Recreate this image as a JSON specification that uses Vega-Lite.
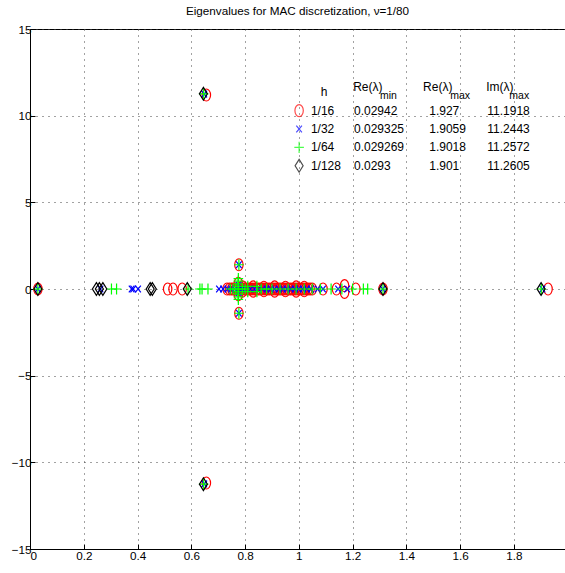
{
  "$schema": "https://vega.github.io/schema/vega-lite/v6.json",
  "width": 535,
  "height": 520,
  "autosize": {"type": "none"},
  "padding": {"left": 30, "top": 29, "right": 0, "bottom": 24},
  "background": "white",
  "title": {
    "text": "Eigenvalues for MAC discretization, ν=1/80",
    "font": "Liberation Sans, Arial, sans-serif",
    "fontSize": 11.7,
    "fontWeight": "normal",
    "color": "#000",
    "anchor": "middle",
    "frame": "group",
    "baseline": "alphabetic",
    "offset": -3
  },
  "config": {
    "font": "Liberation Sans, Arial, sans-serif",
    "view": {"stroke": "#000", "strokeWidth": 1},
    "axis": {
      "domainColor": "#000",
      "tickColor": "#000",
      "labelColor": "#000",
      "labelFont": "Liberation Sans, Arial, sans-serif",
      "labelFontSize": 11.7,
      "gridColor": "#444",
      "gridDash": [1, 5],
      "gridWidth": 1,
      "tickSize": -5,
      "title": null
    }
  },
  "datasets": {
    "eig": [
      {"h": "1/16", "re": 0.02942, "im": 0},
      {"h": "1/16", "re": 0.512, "im": 0},
      {"h": "1/16", "re": 0.532, "im": 0},
      {"h": "1/16", "re": 0.566, "im": 0},
      {"h": "1/16", "re": 0.656, "im": 11.1918},
      {"h": "1/16", "re": 0.656, "im": -11.1918},
      {"h": "1/16", "re": 0.777, "im": 1.4},
      {"h": "1/16", "re": 0.777, "im": -1.4},
      {"h": "1/16", "re": 0.733, "im": 0},
      {"h": "1/16", "re": 0.742, "im": 0},
      {"h": "1/16", "re": 0.75, "im": 0},
      {"h": "1/16", "re": 0.757, "im": 0},
      {"h": "1/16", "re": 0.764, "im": 0},
      {"h": "1/16", "re": 0.771, "im": 0},
      {"h": "1/16", "re": 0.775, "im": 0.32},
      {"h": "1/16", "re": 0.775, "im": -0.32},
      {"h": "1/16", "re": 0.78, "im": 0},
      {"h": "1/16", "re": 0.788, "im": 0},
      {"h": "1/16", "re": 0.79, "im": 0.12},
      {"h": "1/16", "re": 0.79, "im": -0.12},
      {"h": "1/16", "re": 0.795, "im": 0},
      {"h": "1/16", "re": 0.803, "im": 0},
      {"h": "1/16", "re": 0.81, "im": 0},
      {"h": "1/16", "re": 0.818, "im": 0},
      {"h": "1/16", "re": 0.826, "im": 0},
      {"h": "1/16", "re": 0.83, "im": 0.12},
      {"h": "1/16", "re": 0.83, "im": -0.12},
      {"h": "1/16", "re": 0.834, "im": 0},
      {"h": "1/16", "re": 0.842, "im": 0},
      {"h": "1/16", "re": 0.85, "im": 0},
      {"h": "1/16", "re": 0.858, "im": 0},
      {"h": "1/16", "re": 0.866, "im": 0},
      {"h": "1/16", "re": 0.87, "im": 0.1},
      {"h": "1/16", "re": 0.87, "im": -0.1},
      {"h": "1/16", "re": 0.874, "im": 0},
      {"h": "1/16", "re": 0.882, "im": 0},
      {"h": "1/16", "re": 0.89, "im": 0},
      {"h": "1/16", "re": 0.898, "im": 0},
      {"h": "1/16", "re": 0.906, "im": 0},
      {"h": "1/16", "re": 0.91, "im": 0.12},
      {"h": "1/16", "re": 0.91, "im": -0.12},
      {"h": "1/16", "re": 0.914, "im": 0},
      {"h": "1/16", "re": 0.922, "im": 0},
      {"h": "1/16", "re": 0.93, "im": 0},
      {"h": "1/16", "re": 0.938, "im": 0},
      {"h": "1/16", "re": 0.946, "im": 0},
      {"h": "1/16", "re": 0.95, "im": 0.1},
      {"h": "1/16", "re": 0.95, "im": -0.1},
      {"h": "1/16", "re": 0.954, "im": 0},
      {"h": "1/16", "re": 0.962, "im": 0},
      {"h": "1/16", "re": 0.97, "im": 0},
      {"h": "1/16", "re": 0.978, "im": 0},
      {"h": "1/16", "re": 0.986, "im": 0},
      {"h": "1/16", "re": 0.99, "im": 0.12},
      {"h": "1/16", "re": 0.99, "im": -0.12},
      {"h": "1/16", "re": 0.994, "im": 0},
      {"h": "1/16", "re": 1.002, "im": 0},
      {"h": "1/16", "re": 1.01, "im": 0},
      {"h": "1/16", "re": 1.018, "im": 0},
      {"h": "1/16", "re": 1.02, "im": 0.1},
      {"h": "1/16", "re": 1.02, "im": -0.1},
      {"h": "1/16", "re": 1.026, "im": 0},
      {"h": "1/16", "re": 1.034, "im": 0},
      {"h": "1/16", "re": 1.042, "im": 0},
      {"h": "1/16", "re": 1.05, "im": 0},
      {"h": "1/16", "re": 1.09, "im": 0},
      {"h": "1/16", "re": 1.14, "im": 0},
      {"h": "1/16", "re": 1.17, "im": 0.2},
      {"h": "1/16", "re": 1.17, "im": -0.2},
      {"h": "1/16", "re": 1.212, "im": 0},
      {"h": "1/16", "re": 1.313, "im": 0},
      {"h": "1/16", "re": 1.927, "im": 0},

      {"h": "1/32", "re": 0.029325, "im": 0},
      {"h": "1/32", "re": 0.262, "im": 0},
      {"h": "1/32", "re": 0.378, "im": 0},
      {"h": "1/32", "re": 0.384, "im": 0},
      {"h": "1/32", "re": 0.402, "im": 0},
      {"h": "1/32", "re": 0.703, "im": 0},
      {"h": "1/32", "re": 0.718, "im": 0},
      {"h": "1/32", "re": 0.648, "im": 11.2443},
      {"h": "1/32", "re": 0.648, "im": -11.2443},
      {"h": "1/32", "re": 0.777, "im": 1.4},
      {"h": "1/32", "re": 0.777, "im": -1.4},
      {"h": "1/32", "re": 0.735, "im": 0},
      {"h": "1/32", "re": 0.748, "im": 0},
      {"h": "1/32", "re": 0.762, "im": 0},
      {"h": "1/32", "re": 0.776, "im": 0.2},
      {"h": "1/32", "re": 0.776, "im": -0.2},
      {"h": "1/32", "re": 0.79, "im": 0},
      {"h": "1/32", "re": 0.805, "im": 0},
      {"h": "1/32", "re": 0.82, "im": 0},
      {"h": "1/32", "re": 0.835, "im": 0},
      {"h": "1/32", "re": 0.85, "im": 0},
      {"h": "1/32", "re": 0.865, "im": 0},
      {"h": "1/32", "re": 0.88, "im": 0},
      {"h": "1/32", "re": 0.895, "im": 0},
      {"h": "1/32", "re": 0.91, "im": 0},
      {"h": "1/32", "re": 0.925, "im": 0},
      {"h": "1/32", "re": 0.94, "im": 0},
      {"h": "1/32", "re": 0.955, "im": 0},
      {"h": "1/32", "re": 0.97, "im": 0},
      {"h": "1/32", "re": 0.985, "im": 0},
      {"h": "1/32", "re": 1.0, "im": 0},
      {"h": "1/32", "re": 1.015, "im": 0},
      {"h": "1/32", "re": 1.03, "im": 0},
      {"h": "1/32", "re": 1.045, "im": 0},
      {"h": "1/32", "re": 1.07, "im": 0},
      {"h": "1/32", "re": 1.09, "im": 0},
      {"h": "1/32", "re": 1.146, "im": 0},
      {"h": "1/32", "re": 1.18, "im": 0},
      {"h": "1/32", "re": 1.312, "im": 0},
      {"h": "1/32", "re": 1.9059, "im": 0},

      {"h": "1/64", "re": 0.029269, "im": 0},
      {"h": "1/64", "re": 0.303, "im": 0},
      {"h": "1/64", "re": 0.322, "im": 0},
      {"h": "1/64", "re": 0.588, "im": 0},
      {"h": "1/64", "re": 0.632, "im": 0},
      {"h": "1/64", "re": 0.64, "im": 0},
      {"h": "1/64", "re": 0.662, "im": 0},
      {"h": "1/64", "re": 0.646, "im": 11.2572},
      {"h": "1/64", "re": 0.646, "im": -11.2572},
      {"h": "1/64", "re": 0.777, "im": 1.4},
      {"h": "1/64", "re": 0.777, "im": -1.4},
      {"h": "1/64", "re": 0.775, "im": 0},
      {"h": "1/64", "re": 0.775, "im": 0.15},
      {"h": "1/64", "re": 0.775, "im": -0.15},
      {"h": "1/64", "re": 0.775, "im": 0.3},
      {"h": "1/64", "re": 0.775, "im": -0.3},
      {"h": "1/64", "re": 0.775, "im": 0.45},
      {"h": "1/64", "re": 0.775, "im": -0.45},
      {"h": "1/64", "re": 0.775, "im": 0.6},
      {"h": "1/64", "re": 0.775, "im": -0.6},
      {"h": "1/64", "re": 0.745, "im": 0},
      {"h": "1/64", "re": 0.755, "im": 0},
      {"h": "1/64", "re": 0.765, "im": 0},
      {"h": "1/64", "re": 0.79, "im": 0},
      {"h": "1/64", "re": 0.8, "im": 0},
      {"h": "1/64", "re": 0.81, "im": 0.15},
      {"h": "1/64", "re": 0.81, "im": -0.15},
      {"h": "1/64", "re": 0.844, "im": 0.15},
      {"h": "1/64", "re": 0.844, "im": -0.15},
      {"h": "1/64", "re": 0.86, "im": 0},
      {"h": "1/64", "re": 0.88, "im": 0},
      {"h": "1/64", "re": 0.9, "im": 0},
      {"h": "1/64", "re": 0.93, "im": 0},
      {"h": "1/64", "re": 0.96, "im": 0},
      {"h": "1/64", "re": 0.99, "im": 0},
      {"h": "1/64", "re": 1.02, "im": 0},
      {"h": "1/64", "re": 1.05, "im": 0},
      {"h": "1/64", "re": 1.08, "im": 0},
      {"h": "1/64", "re": 1.12, "im": 0},
      {"h": "1/64", "re": 1.16, "im": 0},
      {"h": "1/64", "re": 1.2, "im": 0},
      {"h": "1/64", "re": 1.24, "im": 0},
      {"h": "1/64", "re": 1.256, "im": 0},
      {"h": "1/64", "re": 1.313, "im": 0},
      {"h": "1/64", "re": 1.9018, "im": 0},

      {"h": "1/128", "re": 0.0293, "im": 0},
      {"h": "1/128", "re": 0.247, "im": 0},
      {"h": "1/128", "re": 0.258, "im": 0},
      {"h": "1/128", "re": 0.271, "im": 0},
      {"h": "1/128", "re": 0.447, "im": 0},
      {"h": "1/128", "re": 0.455, "im": 0},
      {"h": "1/128", "re": 0.585, "im": 0},
      {"h": "1/128", "re": 0.645, "im": 11.2605},
      {"h": "1/128", "re": 0.645, "im": -11.2605},
      {"h": "1/128", "re": 1.313, "im": 0},
      {"h": "1/128", "re": 1.901, "im": 0}
    ],
    "table": [
      {"h": "1/16", "remin": "0.02942", "remax": "1.927", "immax": "11.1918"},
      {"h": "1/32", "remin": "0.029325", "remax": "1.9059", "immax": "11.2443"},
      {"h": "1/64", "remin": "0.029269", "remax": "1.9018", "immax": "11.2572"},
      {"h": "1/128", "remin": "0.0293", "remax": "1.901", "immax": "11.2605"}
    ],
    "header": [
      {"h": "h", "re": "Re(λ)", "im": "Im(λ)", "min": "min", "max": "max"}
    ]
  },
  "layer": [
    {
      "data": {"name": "eig"},
      "mark": {"type": "point", "filled": false, "size": 64, "strokeWidth": 1.2, "opacity": 1},
      "encoding": {
        "x": {
          "field": "re",
          "type": "quantitative",
          "scale": {"domain": [0, 1.99], "nice": false, "zero": false},
          "axis": {"values": [0, 0.2, 0.4, 0.6, 0.8, 1, 1.2, 1.4, 1.6, 1.8, 2], "format": "~g", "labelPadding": 6, "grid": true}
        },
        "y": {
          "field": "im",
          "type": "quantitative",
          "scale": {"domain": [-15, 15], "nice": false},
          "axis": {"values": [-15, -10, -5, 0, 5, 10, 15], "format": "~g", "labelPadding": 4, "grid": true}
        },
        "color": {
          "field": "h",
          "type": "nominal",
          "scale": {"domain": ["1/16", "1/32", "1/64", "1/128"], "range": ["#ff0000", "#0000ff", "#00ff00", "#000000"]},
          "legend": null
        },
        "shape": {
          "field": "h",
          "type": "nominal",
          "scale": {
            "domain": ["1/16", "1/32", "1/64", "1/128"],
            "range": [
              "M-1.05,0A1.05,1.5 0 1,0 1.05,0A1.05,1.5 0 1,0 -1.05,0Z",
              "M-0.7,-0.85L0.7,0.85M-0.7,0.85L0.7,-0.85",
              "M-1.2,0L1.2,0M0,-1.4L0,1.4",
              "M0,-1.6L1,0L0,1.6L-1,0Z"
            ]
          },
          "legend": null
        }
      }
    },
    {
      "encoding": {
        "y": {
          "field": "h",
          "type": "ordinal",
          "scale": {"type": "point", "domain": ["h", "1/16", "1/32", "1/64", "1/128"], "range": [58, 150]},
          "axis": null
        }
      },
      "layer": [
        {
          "data": {"name": "table"},
          "mark": {"type": "point", "filled": false, "size": 64, "strokeWidth": 1.2, "yOffset": -4},
          "encoding": {
            "x": {"datum": 1.001, "type": "quantitative"},
            "color": {"field": "h", "type": "nominal", "legend": null},
            "shape": {"field": "h", "type": "nominal", "legend": null}
          }
        },
        {
          "data": {"name": "table"},
          "mark": {"type": "text", "align": "left", "baseline": "alphabetic", "fontSize": 12, "color": "#000"},
          "encoding": {"x": {"datum": 1.045, "type": "quantitative"}, "text": {"field": "h"}}
        },
        {
          "data": {"name": "table"},
          "mark": {"type": "text", "align": "left", "baseline": "alphabetic", "fontSize": 12, "color": "#000"},
          "encoding": {"x": {"datum": 1.205, "type": "quantitative"}, "text": {"field": "remin"}}
        },
        {
          "data": {"name": "table"},
          "mark": {"type": "text", "align": "left", "baseline": "alphabetic", "fontSize": 12, "color": "#000"},
          "encoding": {"x": {"datum": 1.485, "type": "quantitative"}, "text": {"field": "remax"}}
        },
        {
          "data": {"name": "table"},
          "mark": {"type": "text", "align": "left", "baseline": "alphabetic", "fontSize": 12, "color": "#000"},
          "encoding": {"x": {"datum": 1.701, "type": "quantitative"}, "text": {"field": "immax"}}
        },
        {
          "data": {"name": "header"},
          "mark": {"type": "text", "align": "center", "baseline": "alphabetic", "fontSize": 12, "color": "#000"},
          "encoding": {"x": {"datum": 1.094, "type": "quantitative"}, "text": {"field": "h"}}
        },
        {
          "data": {"name": "header"},
          "mark": {"type": "text", "align": "left", "baseline": "alphabetic", "fontSize": 12, "color": "#000", "dy": -5},
          "encoding": {"x": {"datum": 1.202, "type": "quantitative"}, "text": {"field": "re"}}
        },
        {
          "data": {"name": "header"},
          "mark": {"type": "text", "align": "left", "baseline": "alphabetic", "fontSize": 10.5, "color": "#000", "dy": 3},
          "encoding": {"x": {"datum": 1.302, "type": "quantitative"}, "text": {"field": "min"}}
        },
        {
          "data": {"name": "header"},
          "mark": {"type": "text", "align": "left", "baseline": "alphabetic", "fontSize": 12, "color": "#000", "dy": -5},
          "encoding": {"x": {"datum": 1.462, "type": "quantitative"}, "text": {"field": "re"}}
        },
        {
          "data": {"name": "header"},
          "mark": {"type": "text", "align": "left", "baseline": "alphabetic", "fontSize": 10.5, "color": "#000", "dy": 3},
          "encoding": {"x": {"datum": 1.563, "type": "quantitative"}, "text": {"field": "max"}}
        },
        {
          "data": {"name": "header"},
          "mark": {"type": "text", "align": "left", "baseline": "alphabetic", "fontSize": 12, "color": "#000", "dy": -5},
          "encoding": {"x": {"datum": 1.697, "type": "quantitative"}, "text": {"field": "im"}}
        },
        {
          "data": {"name": "header"},
          "mark": {"type": "text", "align": "left", "baseline": "alphabetic", "fontSize": 10.5, "color": "#000", "dy": 3},
          "encoding": {"x": {"datum": 1.783, "type": "quantitative"}, "text": {"field": "max"}}
        }
      ]
    }
  ],
  "resolve": {"scale": {"y": "independent"}}
}
